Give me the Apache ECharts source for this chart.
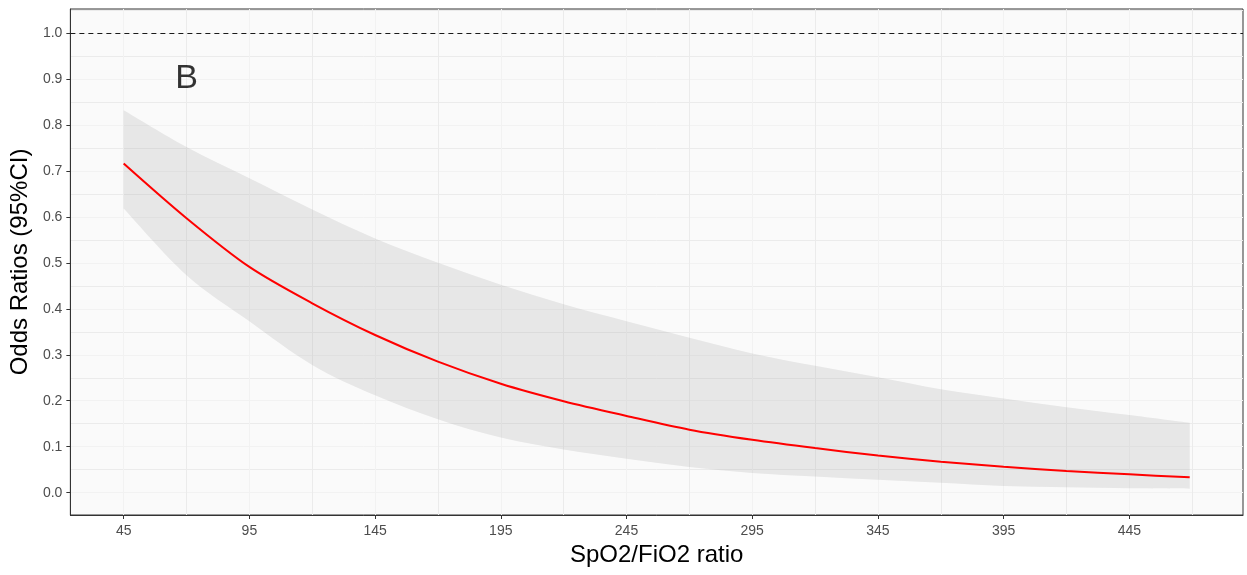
<!DOCTYPE html>
<html>
<head>
<meta charset="utf-8">
<script src="https://cdn.jsdelivr.net/npm/echarts@6/dist/echarts.min.js"></script>
<style>
  html, body { margin: 0; padding: 0; background: #fff; }
  #chart { width: 1247px; height: 575px; }
</style>
</head>
<body>
<div id="chart"></div>
<script>
// SpO2/FiO2 ratio values where the curve was read
const ratio = [45, 70, 95, 120, 145, 170, 195, 220, 245, 270, 295, 320, 345, 370, 395, 420, 445, 469];
// odds ratio estimate
const oddsRatio = [0.716, 0.597, 0.491, 0.412, 0.343, 0.285, 0.237, 0.199, 0.167, 0.137, 0.115, 0.097, 0.081, 0.0675, 0.0565, 0.047, 0.040, 0.0334];
// 95% CI bounds
const ciUpper = [0.832, 0.752, 0.684, 0.616, 0.553, 0.500, 0.452, 0.410, 0.373, 0.337, 0.303, 0.276, 0.251, 0.225, 0.205, 0.186, 0.169, 0.152];
const ciLower = [0.618, 0.473, 0.373, 0.278, 0.212, 0.160, 0.120, 0.094, 0.074, 0.056, 0.043, 0.035, 0.028, 0.0217, 0.0146, 0.0117, 0.0095, 0.0087];

// axis breaks
const xBreaks = [45, 95, 145, 195, 245, 295, 345, 395, 445];
const xMinorBreaks = [70, 120, 170, 220, 270, 320, 370, 420, 470];
const yBreaks = [0, 0.1, 0.2, 0.3, 0.4, 0.5, 0.6, 0.7, 0.8, 0.9, 1.0];
const yMinorBreaks = [0.05, 0.15, 0.25, 0.35, 0.45, 0.55, 0.65, 0.75, 0.85, 0.95, 1.05];

const refLine = 1.0;
const panelTag = 'B';
const tagPos = [70, 0.9];

const xRange = [23.8, 490.2];
const yRange = [-0.0485, 1.052];

const FONT = '"Liberation Sans", Arial, sans-serif';

const chart = echarts.init(document.getElementById('chart'), null, { renderer: 'canvas' });

const ribbonData = ratio.map((x, i) => [x, ciLower[i], ciUpper[i]]);

// catmull-rom through pixel points -> svg path commands (no leading move)
function smoothEdge(pts) {
  let d = '';
  for (let i = 0; i < pts.length - 1; i++) {
    const p0 = pts[Math.max(i - 1, 0)], p1 = pts[i], p2 = pts[i + 1], p3 = pts[Math.min(i + 2, pts.length - 1)];
    const c1 = [p1[0] + (p2[0] - p0[0]) / 6, p1[1] + (p2[1] - p0[1]) / 6];
    const c2 = [p2[0] - (p3[0] - p1[0]) / 6, p2[1] - (p3[1] - p1[1]) / 6];
    d += ' C' + c1[0] + ',' + c1[1] + ' ' + c2[0] + ',' + c2[1] + ' ' + p2[0] + ',' + p2[1];
  }
  return d;
}

function renderRibbon(params, api) {
  if (params.dataIndex !== 0) return null;
  const up = ribbonData.map(r => api.coord([r[0], r[2]]));
  const lo = ribbonData.map(r => api.coord([r[0], r[1]])).reverse();
  const d = 'M' + up[0][0] + ',' + up[0][1] + smoothEdge(up) +
    ' L' + lo[0][0] + ',' + lo[0][1] + smoothEdge(lo) + ' Z';
  return {
    type: 'path',
    shape: { pathData: d },
    style: { fill: 'rgba(153,153,153,0.2)' },
    silent: true
  };
}

const tickLabel = { color: '#4D4D4D', fontSize: 14, fontFamily: FONT };
const axisLineStyle = { show: true, onZero: false, lineStyle: { color: '#333333', width: 1 } };

chart.setOption({
  animation: false,
  grid: {
    left: 68, right: 4, top: 9, bottom: 60,
    show: true,
    backgroundColor: '#FAFAFA',
    borderColor: '#333333',
    borderWidth: 1
  },
  xAxis: [{
    type: 'value',
    min: xRange[0], max: xRange[1],
    name: 'SpO2/FiO2 ratio',
    nameLocation: 'middle',
    nameGap: 28,
    nameTextStyle: { fontSize: 24, color: '#000', fontFamily: FONT },
    axisLine: axisLineStyle,
    axisTick: { show: true, length: 4, customValues: xBreaks, lineStyle: { color: '#333333' } },
    axisLabel: Object.assign({ customValues: xBreaks, margin: 9 }, tickLabel),
    splitLine: { show: true, lineStyle: { color: '#F2F2F2', width: 1 } }
  }, {
    type: 'value',
    position: 'bottom',
    min: xRange[0], max: xRange[1],
    axisLine: { show: false, onZero: false },
    axisTick: { show: false, customValues: xMinorBreaks },
    axisLabel: { show: false, customValues: xMinorBreaks },
    splitLine: { show: true, lineStyle: { color: '#EBEBEB', width: 1 } }
  }],
  yAxis: [{
    type: 'value',
    min: yRange[0], max: yRange[1],
    name: 'Odds Ratios (95%CI)',
    nameLocation: 'middle',
    nameGap: 34,
    nameTextStyle: { fontSize: 24, color: '#000', fontFamily: FONT },
    axisLine: axisLineStyle,
    axisTick: { show: true, length: 4, customValues: yBreaks, lineStyle: { color: '#333333' } },
    axisLabel: Object.assign({
      customValues: yBreaks,
      margin: 8,
      formatter: v => v.toFixed(1)
    }, tickLabel),
    splitLine: { show: true, lineStyle: { color: '#F2F2F2', width: 1 } }
  }, {
    type: 'value',
    position: 'left',
    min: yRange[0], max: yRange[1],
    axisLine: { show: false, onZero: false },
    axisTick: { show: false, customValues: yMinorBreaks },
    axisLabel: { show: false, customValues: yMinorBreaks },
    splitLine: { show: true, lineStyle: { color: '#EBEBEB', width: 1 } }
  }],
  series: [{
    name: '95% CI',
    type: 'custom',
    renderItem: renderRibbon,
    data: ribbonData,
    encode: { x: 0, y: [1, 2] },
    z: 2
  }, {
    name: 'OR',
    type: 'line',
    data: ratio.map((x, i) => [x, oddsRatio[i]]),
    symbol: 'none',
    smooth: 0.3,
    lineStyle: { color: '#FF0000', width: 2 },
    z: 3,
    markLine: {
      silent: true,
      symbol: ['none', 'none'],
      label: { show: false },
      lineStyle: { color: '#1a1a1a', type: [5, 4], width: 1 },
      data: [{ yAxis: refLine }]
    }
  }, {
    name: 'tag',
    type: 'scatter',
    data: [tagPos],
    symbolSize: 0,
    label: {
      show: true,
      position: 'inside',
      formatter: panelTag,
      fontSize: 34,
      color: '#000',
      fontFamily: FONT
    },
    z: 4
  }]
});
</script>
</body>
</html>
